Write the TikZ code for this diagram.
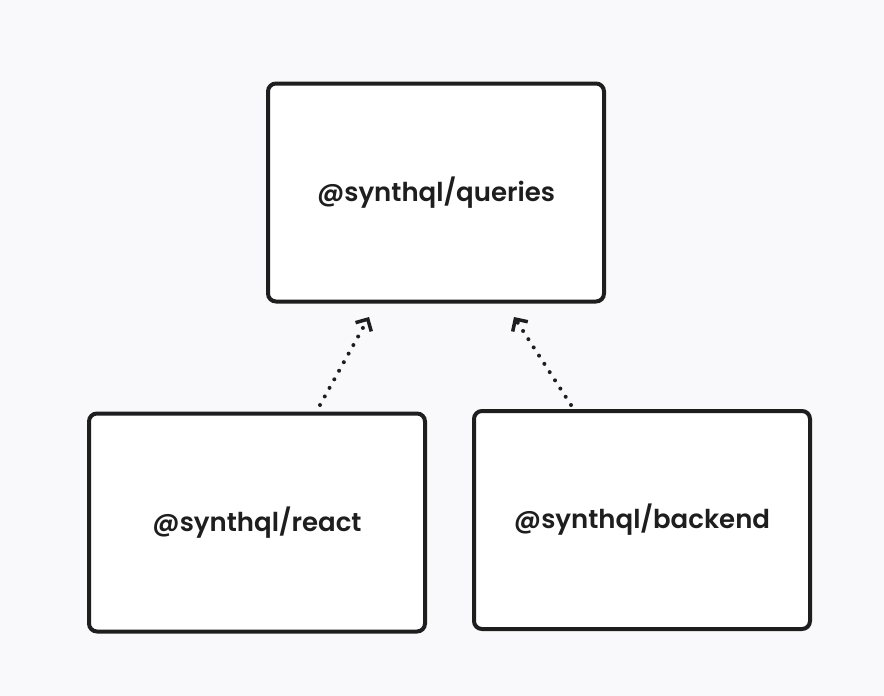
\documentclass[tikz,border=0pt]{standalone}
\usepackage{fontspec}
\setmainfont{Poppins}[BoldFont={* SemiBold}]
\usetikzlibrary{arrows.meta}
\definecolor{bg}{HTML}{F9F9FB}
\definecolor{ink}{HTML}{1E1E1E}
\tikzset{
  pkg/.style={draw=ink, fill=white, line width=4pt, rounded corners=8pt, minimum width=336pt, minimum height=218pt, inner sep=0pt, font=\bfseries\fontsize{26}{30}\selectfont, text=ink},
  dep/.style={draw=ink, line width=4pt, line cap=round, dash pattern=on 0pt off 9.8pt, -{Straight Barb[length=9pt,width=18pt,line width=3.5pt]}}
}
\begin{document}
\begin{tikzpicture}[x=1pt,y=-1pt]
\useasboundingbox[fill=bg] (0,0) rectangle (884,696);
\node[pkg] (queries) at (436,192.5) {@synthql/queries};
\node[pkg] (react) at (257,522.5) {@synthql/react};
\node[pkg] (backend) at (642,520) {@synthql/backend};
\coordinate (r1) at (320,405);
\coordinate (q1) at (369,317);
\coordinate (b1) at (571,405);
\coordinate (q2) at (514,317);
\draw[dep] (r1) -- (q1);
\draw[dep] (b1) -- (q2);
\end{tikzpicture}
\end{document}
